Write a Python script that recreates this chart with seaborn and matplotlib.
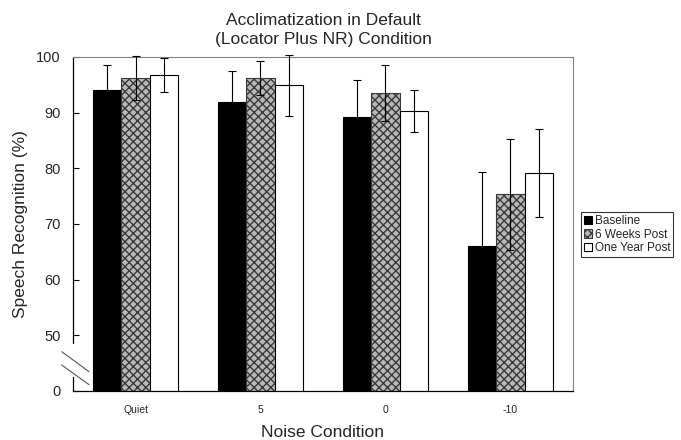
import pandas as pd
import matplotlib.pyplot as plt
import seaborn as sns
from matplotlib.lines import Line2D

# data
conditions = ['Quiet', '5', '0', '-10']
groups = ['Baseline', '6 Weeks Post', 'One Year Post']
baseline = [94.0, 92.0, 89.3, 66.0]
baseline_err = [4.6, 5.4, 6.5, 13.3]
six_weeks = [96.2, 96.2, 93.5, 75.3]
six_weeks_err = [4.0, 3.0, 5.0, 10.0]
one_year = [96.8, 94.9, 90.3, 79.2]
one_year_err = [3.1, 5.5, 3.7, 7.9]
y_ticks = [40, 50, 60, 70, 80, 90, 100]
y_tick_labels = ['0', '50', '60', '70', '80', '90', '100']

means = [baseline, six_weeks, one_year]
errs = [baseline_err, six_weeks_err, one_year_err]

rows = []
for g, vals in zip(groups, means):
    for c, v in zip(conditions, vals):
        rows.append({'condition': c, 'group': g, 'score': v})
df = pd.DataFrame(rows)

sns.set_style('white')
plt.rcParams['font.family'] = ['Liberation Sans', 'DejaVu Sans']

fig = plt.figure(figsize=(6.81, 4.40), dpi=100)
ax = fig.add_axes([0.1072, 0.1114, 0.7342, 0.7591])

palette = {'Baseline': 'black', '6 Weeks Post': '#b8b8b8', 'One Year Post': 'white'}
sns.barplot(data=df, x='condition', y='score', hue='group', order=conditions,
            hue_order=groups, palette=palette, saturation=1, width=0.68,
            edgecolor='black', linewidth=0.8, errorbar=None, legend=False, ax=ax)
bar_sets = list(ax.containers)

# hatch for the 6 weeks bars
for bar in bar_sets[1]:
    bar.set_hatch('xxxx')
    bar.set_edgecolor('#3a3a3a')

# error bars on each bar centre
for cont, e in zip(bar_sets, errs):
    xs = [b.get_x() + b.get_width() / 2 for b in cont]
    ys = [b.get_height() for b in cont]
    ax.errorbar(xs, ys, yerr=e, fmt='none', ecolor='black', elinewidth=0.8,
                capsize=2.6, capthick=0.8, clip_on=False, zorder=5)

ax.set_ylim(40, 100)
ax.set_xlim(-0.5, 3.5)
ax.set_yticks(y_ticks)
ax.set_yticklabels(y_tick_labels, fontsize=10.5)
ax.set_xticks(range(len(conditions)))
ax.set_xticklabels(conditions, fontsize=7.5)
ax.set_xticks([0.5, 1.5, 2.5], minor=True)
ax.tick_params(axis='x', which='major', length=0, pad=10)
ax.tick_params(axis='x', which='minor', direction='in', length=4, width=0.8, color='black')
ax.tick_params(axis='y', direction='in', length=4, width=0.8, color='black', pad=9, left=True)

ax.set_xlabel('Noise Condition', fontsize=12.5, labelpad=7)
ax.set_ylabel('Speech Recognition (%)', fontsize=12.5, labelpad=6)
ax.set_title('Acclimatization in Default\n(Locator Plus NR) Condition', fontsize=12.5,
             pad=9, linespacing=1.4)

for s in ['top', 'right']:
    ax.spines[s].set_color('#808080')
    ax.spines[s].set_linewidth(0.8)
ax.spines['bottom'].set_color('black')
ax.spines['bottom'].set_linewidth(0.9)
ax.spines['left'].set_visible(False)

# broken left axis with two slash marks
ax.add_line(Line2D([0, 0], [0, 0.042], transform=ax.transAxes, color='black', lw=0.9, clip_on=False))
ax.add_line(Line2D([0, 0], [0.144, 1], transform=ax.transAxes, color='black', lw=0.9, clip_on=False))
ax.add_line(Line2D([-0.0226, 0.032], [0.1177, 0.0578], transform=ax.transAxes, color='#555555', lw=0.8, clip_on=False))
ax.add_line(Line2D([-0.0226, 0.032], [0.0778, 0.0189], transform=ax.transAxes, color='#555555', lw=0.8, clip_on=False))

handles = [cont.patches[0] for cont in bar_sets]
leg = fig.legend(handles, groups, loc='upper left', bbox_to_anchor=(581 / 681, 1 - 212 / 440),
                 fontsize=8.5, frameon=True, fancybox=False, handlelength=0.7, handleheight=0.7,
                 handletextpad=0.2, borderpad=0.25, labelspacing=0.15, borderaxespad=0)
leg.get_frame().set_edgecolor('black')
leg.get_frame().set_linewidth(0.8)

fig.savefig('out.png', dpi=100)
